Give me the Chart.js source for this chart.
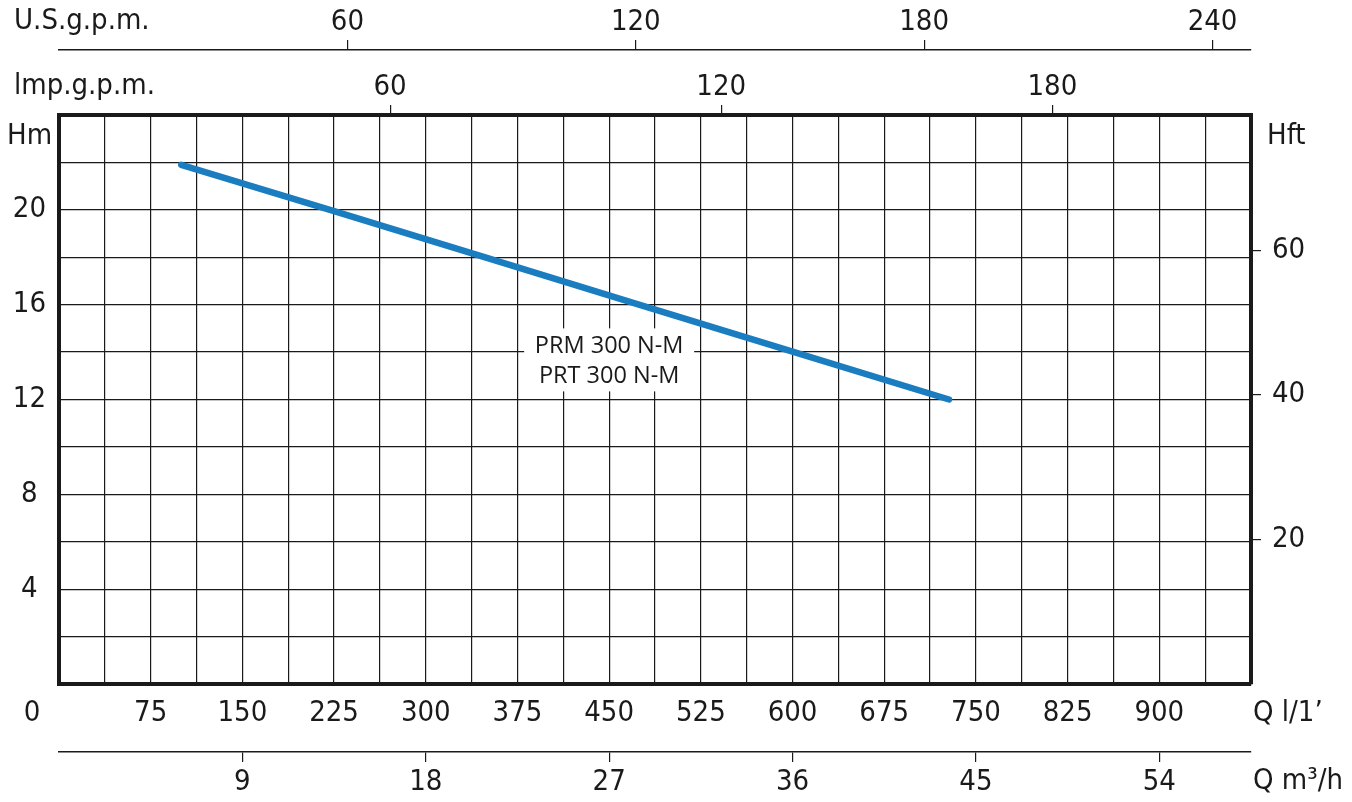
<!DOCTYPE html>
<html>
<head>
<meta charset="utf-8">
<script src="https://cdn.jsdelivr.net/npm/chart.js@4.4.1/dist/chart.umd.min.js"></script>
<style>
	html, body { margin: 0; padding: 0; background: #fff; }
	#wrap { width: 1352px; height: 802px; position: relative; }
</style>
</head>
<body>
<div id="wrap"><canvas id="pumpChart"></canvas></div>
<script>
"use strict"

// DATA -----------------------
const flowLpm = [100, 225, 350, 475, 600, 728]
const headM = [21.9, 19.95, 17.97, 15.99, 14.02, 12.0]
const curveNames = ["PRM 300 N-M", "PRT 300 N-M"]

const lpmTicks = [75, 150, 225, 300, 375, 450, 525, 600, 675, 750, 825, 900]
const m3hTicks = [9, 18, 27, 36, 45, 54]
const usTicks = [60, 120, 180, 240]
const impTicks = [60, 120, 180]
const hmTicks = [4, 8, 12, 16, 20]
const hftTicks = [20, 40, 60]

// STYLE -----------------------
const ink = "#1a1a1a"
const family = "'Liberation Sans Narrow', 'DejaVu Sans Condensed', sans-serif"
const axisFont = { family: family, size: 29 }

function fixedTicks(values) {
	return function (scale) {
		scale.ticks = values.map((v) => ({ value: v }))
	}
}

// PLUGINS -----------------------
const axisTitles = {
	id: "axisTitles",
	afterDraw(chart) {
		const ctx = chart.ctx
		const a = chart.chartArea
		ctx.save()
		ctx.fillStyle = ink
		ctx.font = "29px " + family
		ctx.textBaseline = "middle"
		ctx.textAlign = "left"
		ctx.fillText("U.S.g.p.m.", 14, 21)
		ctx.fillText("lmp.g.p.m.", 14, 86)
		ctx.fillText("Hm", 7, a.top + 21)
		ctx.fillText("Hft", a.right + 16, a.top + 21)
		ctx.fillText("Q l/1\u2019", a.right + 2, a.bottom + 29)
		ctx.fillText("Q m\u00b3/h", a.right + 2, a.bottom + 97)
		ctx.textAlign = "center"
		ctx.fillText("0", 32, a.bottom + 29)
		ctx.restore()
	},
}

const curveLabel = {
	id: "curveLabel",
	afterDatasetsDraw(chart) {
		const ctx = chart.ctx
		const cx = chart.scales.x.getPixelForValue(450)
		const cy = chart.scales.y.getPixelForValue(13.65)
		ctx.save()
		ctx.fillStyle = "#fff"
		ctx.fillRect(cx - 85, cy - 32, 170, 63)
		ctx.fillStyle = ink
		ctx.font = "23.5px 'Open Sans', sans-serif"
		ctx.textAlign = "center"
		ctx.textBaseline = "middle"
		ctx.fillText(curveNames[0], cx, cy - 14)
		ctx.fillText(curveNames[1], cx, cy + 16)
		ctx.restore()
	},
}

// CHART -----------------------
const points = flowLpm.map((q, i) => ({ x: q, y: headM[i] }))

new Chart(document.getElementById("pumpChart"), {
	type: "line",
	data: {
		datasets: [
			{
				data: points,
				borderColor: "#1a7dc0",
				borderWidth: 6.5,
				borderCapStyle: "round",
				pointRadius: 0,
				tension: 0,
			},
		],
	},
	options: {
		responsive: true,
		maintainAspectRatio: false,
		animation: false,
		layout: { padding: 0 },
		plugins: {
			legend: { display: false },
			tooltip: { enabled: false },
		},
		scales: {
			x: {
				type: "linear",
				position: "bottom",
				weight: 0,
				min: 0,
				max: 975,
				ticks: {
					stepSize: 37.5,
					autoSkip: false,
					maxRotation: 0,
					padding: 12,
					color: ink,
					font: axisFont,
					callback: (v) => (lpmTicks.includes(v) ? v : ""),
				},
				grid: { color: ink, lineWidth: 1.2, drawTicks: false },
				border: { color: ink, width: 4 },
				afterFit: (s) => { s.height = 68 },
			},
			m3h: {
				type: "linear",
				position: "bottom",
				weight: 1,
				min: 0,
				max: 58.5,
				afterBuildTicks: fixedTicks(m3hTicks),
				ticks: { autoSkip: false, maxRotation: 0, padding: 3, color: ink, font: axisFont },
				grid: { drawOnChartArea: false, color: ink, lineWidth: 1.2, tickLength: 10 },
				border: { color: ink, width: 1.5 },
				afterFit: (s) => { s.height = 50 },
			},
			imp: {
				type: "linear",
				position: "top",
				weight: 0,
				min: 0,
				max: 216,
				afterBuildTicks: fixedTicks(impTicks),
				ticks: { autoSkip: false, maxRotation: 0, padding: 0, color: ink, font: axisFont },
				grid: { drawOnChartArea: false, color: ink, lineWidth: 1.2, tickLength: 10 },
				border: { color: ink, width: 4 },
				afterFit: (s) => { s.height = 65 },
			},
			us: {
				type: "linear",
				position: "top",
				weight: 1,
				min: 0,
				max: 248,
				afterBuildTicks: fixedTicks(usTicks),
				ticks: { autoSkip: false, maxRotation: 0, padding: 0, color: ink, font: axisFont },
				grid: { drawOnChartArea: false, color: ink, lineWidth: 1.2, tickLength: 10 },
				border: { color: ink, width: 1.5 },
				afterFit: (s) => { s.height = 50 },
			},
			y: {
				type: "linear",
				position: "left",
				min: 0,
				max: 24,
				ticks: {
					stepSize: 2,
					autoSkip: false,
					padding: 13,
					crossAlign: "center",
					color: ink,
					font: axisFont,
					callback: (v) => (hmTicks.includes(v) ? v : ""),
				},
				grid: { color: ink, lineWidth: 1.2, drawTicks: false },
				border: { color: ink, width: 4 },
				afterFit: (s) => { s.width = 59 },
			},
			hft: {
				type: "linear",
				position: "right",
				min: 0,
				max: 24 * 3.28084,
				afterBuildTicks: fixedTicks(hftTicks),
				ticks: { autoSkip: false, padding: 11, color: ink, font: axisFont },
				grid: { drawOnChartArea: false, color: ink, lineWidth: 1.2, tickLength: 10 },
				border: { color: ink, width: 4 },
				afterFit: (s) => { s.width = 101 },
			},
		},
	},
	plugins: [axisTitles, curveLabel],
})
</script>
</body>
</html>
